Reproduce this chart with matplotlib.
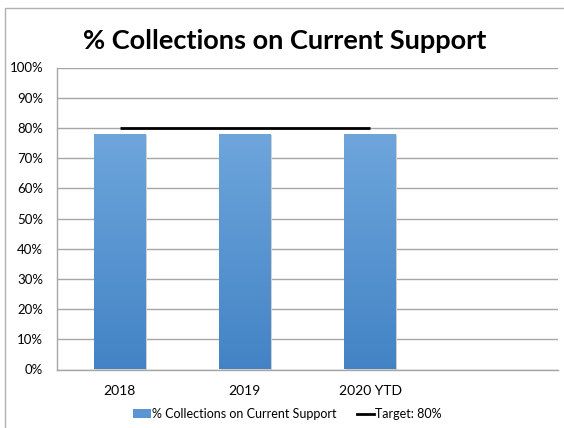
import matplotlib
matplotlib.use("Agg")
import matplotlib.pyplot as plt
import numpy as np
from matplotlib.colors import LinearSegmentedColormap
from matplotlib.patches import Rectangle, Patch
from matplotlib.lines import Line2D

categories = ["2018", "2019", "2020 YTD", ""]
collections = [78, 78, 78]
target = [80, 80, 80]
yticks = [0, 10, 20, 30, 40, 50, 60, 70, 80, 90, 100]

plt.rcParams['font.family'] = ['Lato', 'DejaVu Sans']

fig = plt.figure(figsize=(5.64, 4.28), dpi=100)
ax = fig.add_axes([57 / 564, 58.5 / 428, 501 / 564, 302 / 428])

# outer chart border
fig.patches.append(Rectangle((5 / 564, -0.1), 1.2, (428 - 8) / 428 + 0.1,
                             transform=fig.transFigure, fill=False,
                             edgecolor='#b0b0b0', linewidth=1))

x = np.arange(len(categories))
bars = ax.bar(x[:len(collections)], collections, width=0.41, color='none',
              edgecolor='none', zorder=3)

# gradient fill, light at top, dark at bottom
cmap = LinearSegmentedColormap.from_list('bar', ['#4383c5', '#6ea6dc'])
grad = np.linspace(0, 1, 256).reshape(-1, 1)
for b in bars:
    bx, by = b.get_x(), b.get_y()
    bw, bh = b.get_width(), b.get_height()
    # soft shadow
    ax.add_patch(Rectangle((bx + 0.012, by), bw, bh - 0.4, facecolor='#d0d0d0',
                           edgecolor='none', zorder=2.5))
    im = ax.imshow(grad, cmap=cmap, aspect='auto', origin='lower',
                   extent=[bx, bx + bw, by, by + bh], zorder=3)
    im.set_clip_path(b)

ax.plot(x[:len(target)], target, color='black', linewidth=2, zorder=4,
        solid_capstyle='butt')

ax.set_xlim(-0.5, len(categories) - 0.5)
ax.set_ylim(0, 100)
ax.set_yticks(yticks)
ax.set_yticklabels([f"{v}%" for v in yticks], fontsize=9.5)
ax.set_xticks(x)
ax.set_xticklabels(categories, fontsize=10)
ax.tick_params(axis='both', length=0)
ax.tick_params(axis='y', pad=10)
ax.tick_params(axis='x', pad=11)
ax.grid(axis='y', color='#a6a6a6', linewidth=1, zorder=0)
ax.set_axisbelow(True)
for s in ['top', 'right']:
    ax.spines[s].set_visible(False)
for s in ['left', 'bottom']:
    ax.spines[s].set_color('#a6a6a6')
    ax.spines[s].set_linewidth(1)

fig.text(0.505, 0.905, "% Collections on Current Support", ha='center',
         va='center', fontsize=19.5, fontweight='bold')

handles = [Patch(facecolor='#5b95d3', edgecolor='none'),
           Line2D([0], [0], color='black', linewidth=2)]
fig.legend(handles, ["% Collections on Current Support", "Target: 80%"],
           loc='center', bbox_to_anchor=(0.51, 0.033), ncol=2, frameon=False,
           fontsize=9, handlelength=1.4, handleheight=0.7, handletextpad=0.1,
           columnspacing=1.6)

fig.savefig("out.png", dpi=100)
